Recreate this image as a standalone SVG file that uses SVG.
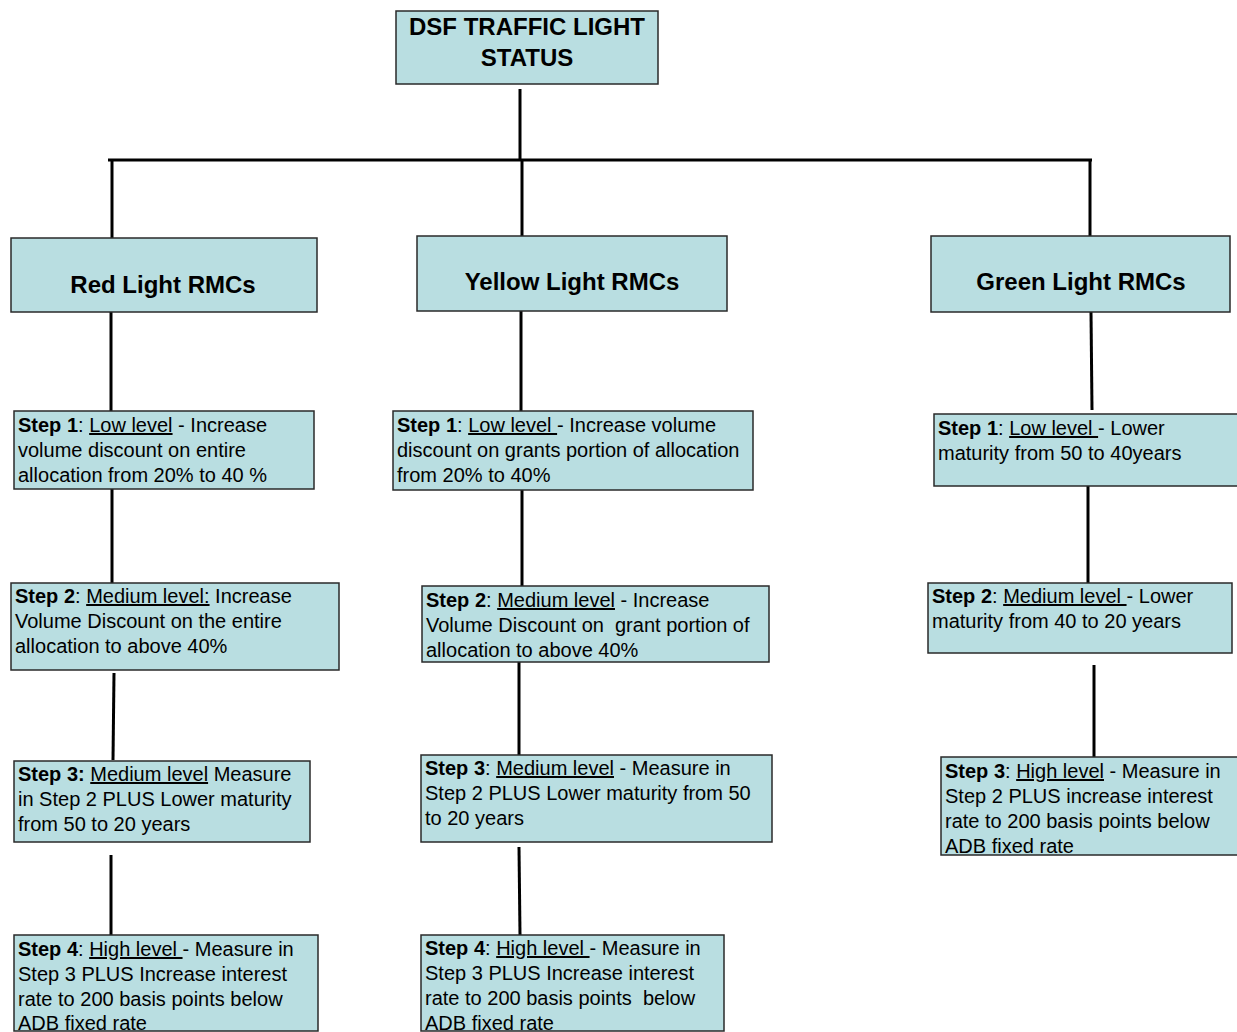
<svg xmlns="http://www.w3.org/2000/svg" width="1237" height="1032" viewBox="0 0 1237 1032">
<style>
.box{fill:#B9DEE1;stroke:#2a2a2a;stroke-width:1.5}
.con line{stroke:#000;stroke-width:3}
.t{font-family:"Liberation Sans",Arial,sans-serif;font-size:20px;fill:#000;white-space:pre}
.h{font-family:"Liberation Sans",Arial,sans-serif;font-size:24px;font-weight:bold;fill:#000;text-anchor:middle}
.b{font-weight:bold}
.u{text-decoration:underline}
</style>
<rect width="1237" height="1032" fill="#fff"/>
<g id="connectors" class="con">
<line x1="520" y1="89" x2="520" y2="160"/>
<line x1="108" y1="160" x2="1092" y2="160"/>
<line x1="112" y1="160" x2="112" y2="238"/>
<line x1="522" y1="160" x2="522" y2="236"/>
<line x1="1090" y1="160" x2="1090" y2="236"/>
<line x1="111" y1="312" x2="111" y2="411"/>
<line x1="521" y1="311" x2="521" y2="411"/>
<line x1="1091" y1="312" x2="1092" y2="410"/>
<line x1="112" y1="489" x2="112" y2="583"/>
<line x1="114" y1="673" x2="113" y2="760"/>
<line x1="111" y1="855" x2="111" y2="935"/>
<line x1="522" y1="490" x2="522" y2="586"/>
<line x1="519" y1="662" x2="519" y2="755"/>
<line x1="519" y1="847" x2="520" y2="935"/>
<line x1="1088" y1="486" x2="1088" y2="583"/>
<line x1="1094" y1="665" x2="1094" y2="757"/>
</g>
<g id="top">
<rect class="box" x="396" y="11" width="262" height="73"/>
<text class="h" x="527" y="35">DSF TRAFFIC LIGHT</text>
<text class="h" x="527" y="66">STATUS</text>
</g>
<g id="red">
<rect class="box" x="11" y="238" width="306" height="74"/>
<text class="h" x="163" y="293">Red Light RMCs</text>
</g>
<g id="yellow">
<rect class="box" x="417" y="236" width="310" height="75"/>
<text class="h" x="572" y="290">Yellow Light RMCs</text>
</g>
<g id="green">
<rect class="box" x="931" y="236" width="299" height="76"/>
<text class="h" x="1081" y="290">Green Light RMCs</text>
</g>
<g id="red1">
<rect class="box" x="14" y="411" width="300" height="78"/>
<text class="t" x="18" y="432"><tspan class="b">Step 1</tspan>: <tspan class="u">Low level</tspan> - Increase</text>
<text class="t" x="18" y="457">volume discount on entire</text>
<text class="t" x="18" y="482">allocation from 20% to 40 %</text>
</g>
<g id="red2">
<rect class="box" x="11" y="583" width="328" height="87"/>
<text class="t" x="15" y="603"><tspan class="b">Step 2</tspan>: <tspan class="u">Medium level:</tspan> Increase</text>
<text class="t" x="15" y="628">Volume Discount on the entire</text>
<text class="t" x="15" y="653">allocation to above 40%</text>
</g>
<g id="red3">
<rect class="box" x="14" y="761" width="296" height="81"/>
<text class="t" x="18" y="781"><tspan class="b">Step 3:</tspan> <tspan class="u">Medium level</tspan> Measure</text>
<text class="t" x="18" y="806">in Step 2 PLUS Lower maturity</text>
<text class="t" x="18" y="831">from 50 to 20 years</text>
</g>
<g id="red4">
<rect class="box" x="14" y="935" width="304" height="96"/>
<text class="t" x="18" y="956"><tspan class="b">Step 4</tspan>: <tspan class="u">High level </tspan>- Measure in</text>
<text class="t" x="18" y="981">Step 3 PLUS Increase interest</text>
<text class="t" x="18" y="1006">rate to 200 basis points below</text>
<text class="t" x="18" y="1030">ADB fixed rate</text>
</g>
<g id="yellow1">
<rect class="box" x="393" y="411" width="360" height="79"/>
<text class="t" x="397" y="432"><tspan class="b">Step 1</tspan>: <tspan class="u">Low level </tspan>- Increase volume</text>
<text class="t" x="397" y="457">discount on grants portion of allocation</text>
<text class="t" x="397" y="482">from 20% to 40%</text>
</g>
<g id="yellow2">
<rect class="box" x="422" y="586" width="347" height="76"/>
<text class="t" x="426" y="607"><tspan class="b">Step 2</tspan>: <tspan class="u">Medium level</tspan> - Increase</text>
<text class="t" x="426" y="632">Volume Discount on  grant portion of</text>
<text class="t" x="426" y="657">allocation to above 40%</text>
</g>
<g id="yellow3">
<rect class="box" x="421" y="755" width="351" height="87"/>
<text class="t" x="425" y="775"><tspan class="b">Step 3</tspan>: <tspan class="u">Medium level</tspan> - Measure in</text>
<text class="t" x="425" y="800">Step 2 PLUS Lower maturity from 50</text>
<text class="t" x="425" y="825">to 20 years</text>
</g>
<g id="yellow4">
<rect class="box" x="421" y="935" width="303" height="96"/>
<text class="t" x="425" y="955"><tspan class="b">Step 4</tspan>: <tspan class="u">High level </tspan>- Measure in</text>
<text class="t" x="425" y="980">Step 3 PLUS Increase interest</text>
<text class="t" x="425" y="1005">rate to 200 basis points  below</text>
<text class="t" x="425" y="1030">ADB fixed rate</text>
</g>
<g id="green1">
<rect class="box" x="934" y="414" width="305" height="72"/>
<text class="t" x="938" y="435"><tspan class="b">Step 1</tspan>: <tspan class="u">Low level </tspan>- Lower</text>
<text class="t" x="938" y="460">maturity from 50 to 40years</text>
</g>
<g id="green2">
<rect class="box" x="928" y="583" width="304" height="70"/>
<text class="t" x="932" y="603"><tspan class="b">Step 2</tspan>: <tspan class="u">Medium level </tspan>- Lower</text>
<text class="t" x="932" y="628">maturity from 40 to 20 years</text>
</g>
<g id="green3">
<rect class="box" x="941" y="757" width="300" height="98"/>
<text class="t" x="945" y="778"><tspan class="b">Step 3</tspan>: <tspan class="u">High level</tspan> - Measure in</text>
<text class="t" x="945" y="803">Step 2 PLUS increase interest</text>
<text class="t" x="945" y="828">rate to 200 basis points below</text>
<text class="t" x="945" y="853">ADB fixed rate</text>
</g>
</svg>
